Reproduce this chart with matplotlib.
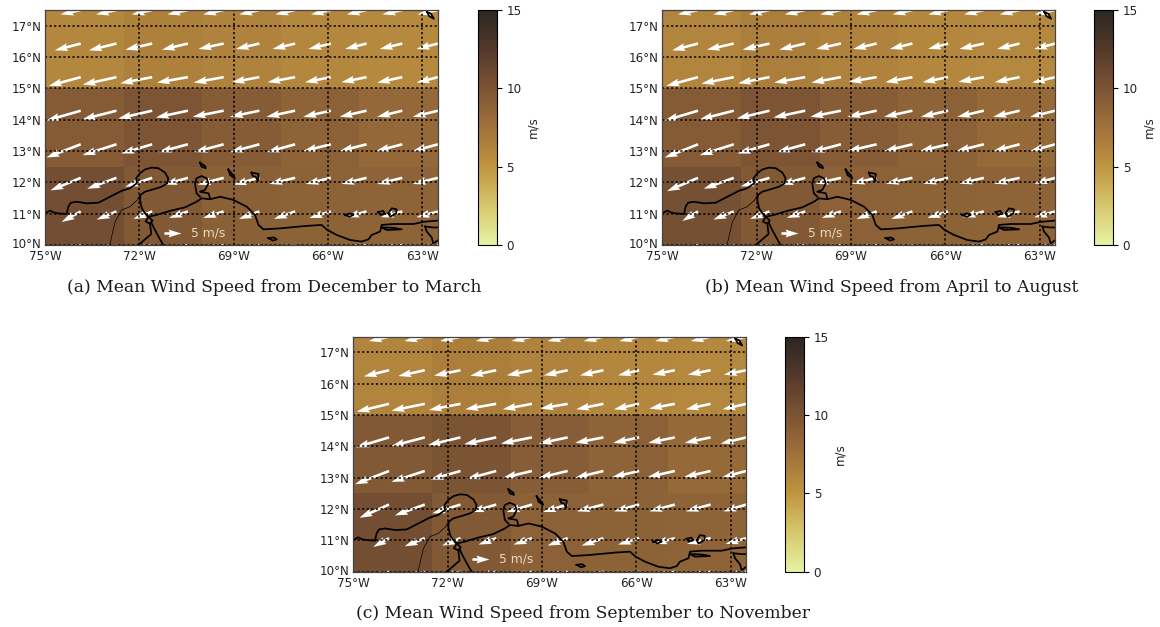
import numpy as np
import matplotlib
matplotlib.use("Agg")
import matplotlib.pyplot as plt
from matplotlib.colors import LinearSegmentedColormap
from matplotlib.transforms import ScaledTranslation

W, H = 1160, 627
CAPTIONS = ["(a) Mean Wind Speed from December to March",
            "(b) Mean Wind Speed from April to August",
            "(c) Mean Wind Speed from September to November"]
LON_EDGES = [-75, -72.5, -70, -67.5, -66, -65, -62.5]
LAT_EDGES = [10, 12.5, 15, 17.5]
SPEED_A = [[10.5, 9.6, 9.0, 8.8, 8.8, 8.7],
           [9.4, 9.9, 9.3, 8.7, 8.9, 8.3],
           [6.0, 6.5, 6.3, 6.0, 6.0, 5.8]]
SPEED_B = [[10.4, 9.6, 8.9, 8.8, 8.8, 8.7],
           [9.4, 9.9, 9.2, 8.7, 8.9, 8.2],
           [6.1, 6.6, 6.3, 6.0, 6.0, 5.9]]
SPEED_C = [[10.5, 9.6, 8.9, 8.8, 8.8, 8.7],
           [9.5, 10.0, 9.2, 8.7, 8.9, 8.2],
           [6.1, 6.6, 6.3, 6.0, 6.0, 5.9]]
ARROW_LON = [-73.864, -72.727, -71.591, -70.455, -69.318, -68.182, -67.045, -65.909, -64.773, -63.636, -62.5]
ARROW_LAT = [10.0, 11.071, 12.143, 13.214, 14.286, 15.357, 16.429, 17.5]

U_A = [[-5.5, -5.5, -5.5, -5.5, -5.8, -6.0, -6.0, -6.2, -6.2, -6.2, -6.2],
       [-5.6, -5.8, -5.5, -5.5, -6.0, -6.0, -6.2, -6.3, -6.0, -6.3, -6.3],
       [-8.9, -8.6, -7.9, -7.0, -7.6, -7.6, -7.6, -7.4, -7.4, -7.4, -7.4],
       [-10.1, -10.0, -9.1, -8.6, -8.6, -8.6, -8.3, -8.1, -7.9, -7.7, -7.4],
       [-10.1, -10.0, -10.0, -9.4, -9.1, -8.6, -8.4, -8.1, -7.9, -7.4, -7.4],
       [-9.4, -9.9, -9.4, -9.1, -8.8, -8.1, -8.1, -7.6, -7.4, -7.4, -6.3],
       [-7.6, -8.1, -7.9, -7.6, -7.4, -6.9, -6.6, -6.6, -6.3, -6.6, -6.3],
       [-5.9, -6.0, -6.0, -6.0, -6.0, -5.9, -5.8, -5.8, -5.8, -5.8, -6.0]]
V_A = [[-2.2, -2.2, -2.0, -1.9, -1.9, -2.0, -2.0, -1.9, -1.8, -1.7, -1.7],
       [-3.1, -2.4, -2.2, -1.9, -1.9, -2.2, -2.2, -1.9, -1.7, -1.7, -1.7],
       [-3.7, -3.2, -2.6, -2.0, -2.0, -2.0, -1.8, -1.8, -1.8, -1.8, -1.8],
       [-3.9, -3.2, -2.7, -2.3, -2.3, -2.3, -2.3, -2.0, -2.0, -2.0, -2.0],
       [-2.9, -2.55, -2.3, -2.0, -1.8, -1.8, -1.8, -1.8, -1.8, -1.8, -1.8],
       [-2.55, -2.2, -1.8, -1.6, -1.6, -1.5, -1.5, -1.5, -1.5, -1.6, -1.6],
       [-2.0, -2.0, -1.8, -1.8, -1.6, -1.6, -1.6, -1.6, -1.6, -1.6, -1.6],
       [-1.3, -1.3, -1.3, -1.3, -1.3, -1.3, -1.3, -1.3, -1.3, -1.3, -1.3]]
U_B = [[-5.5, -5.5, -5.5, -5.4, -5.6, -5.9, -6.0, -6.1, -6.2, -6.3, -6.2],
       [-4.6, -6.0, -5.7, -5.4, -5.6, -5.9, -6.2, -6.1, -6.2, -6.6, -6.2],
       [-9.1, -8.8, -8.4, -7.3, -7.5, -7.3, -7.8, -7.3, -7.2, -7.5, -6.2],
       [-9.8, -10.0, -9.4, -8.3, -8.7, -8.6, -8.3, -8.3, -8.1, -7.7, -7.4],
       [-9.8, -10.0, -9.6, -9.3, -9.0, -8.6, -8.3, -8.0, -7.8, -7.7, -7.4],
       [-9.3, -9.5, -9.2, -9.1, -8.7, -8.2, -8.0, -7.5, -7.5, -7.3, -6.8],
       [-7.6, -7.9, -7.9, -7.6, -7.3, -6.9, -6.6, -5.9, -7.2, -6.6, -6.2],
       [-5.9, -6.0, -6.0, -6.0, -6.0, -5.9, -5.8, -5.8, -5.8, -5.8, -6.0]]
V_B = [[-2.2, -2.2, -2.0, -1.9, -1.9, -2.0, -2.0, -1.9, -1.8, -1.7, -1.7],
       [-2.8, -2.4, -2.2, -1.9, -1.9, -2.2, -2.2, -1.9, -1.7, -1.7, -1.7],
       [-3.9, -3.2, -2.5, -2.0, -1.7, -1.7, -1.7, -1.7, -1.7, -1.7, -1.7],
       [-3.9, -3.2, -2.7, -2.3, -2.3, -2.0, -2.0, -2.0, -2.0, -2.0, -2.0],
       [-2.9, -2.55, -2.3, -2.0, -1.8, -1.8, -1.8, -1.8, -1.8, -1.8, -1.8],
       [-2.55, -1.9, -1.8, -1.6, -1.6, -1.4, -1.5, -1.5, -1.4, -1.5, -1.6],
       [-2.0, -1.8, -1.8, -1.8, -1.6, -1.6, -1.6, -1.6, -1.6, -1.6, -1.6],
       [-1.3, -1.3, -1.3, -1.3, -1.3, -1.3, -1.3, -1.3, -1.3, -1.3, -1.3]]
U_C = [[-5.4, -5.5, -5.4, -5.3, -5.5, -5.9, -6.1, -6.1, -6.1, -6.4, -6.1],
       [-4.6, -5.9, -5.4, -5.2, -5.4, -5.9, -6.4, -6.2, -6.1, -6.9, -6.1],
       [-8.7, -8.8, -8.3, -7.4, -7.4, -7.3, -7.8, -7.4, -7.5, -7.3, -6.8],
       [-10.0, -9.8, -8.8, -8.6, -8.5, -8.5, -8.3, -7.9, -8.0, -7.8, -7.0],
       [-9.7, -9.8, -9.6, -9.4, -9.1, -8.5, -8.3, -7.6, -7.8, -7.6, -7.5],
       [-9.5, -9.8, -9.3, -9.1, -8.6, -8.0, -8.0, -7.4, -7.5, -7.3, -7.0],
       [-7.4, -7.8, -7.8, -7.6, -7.4, -7.0, -6.9, -6.2, -6.6, -6.7, -6.6],
       [-5.9, -6.0, -6.0, -6.0, -6.0, -5.9, -5.8, -5.8, -5.8, -5.8, -6.0]]
V_C = [[-2.2, -2.2, -2.0, -1.9, -1.9, -2.0, -2.0, -1.9, -1.8, -1.7, -1.7],
       [-2.6, -2.4, -2.2, -1.9, -1.9, -2.2, -2.2, -1.9, -1.7, -1.7, -1.7],
       [-3.9, -3.2, -2.6, -2.2, -2.2, -2.2, -2.0, -2.0, -2.0, -2.0, -2.0],
       [-3.9, -3.2, -2.5, -2.3, -2.0, -2.0, -2.0, -1.8, -1.8, -1.8, -1.8],
       [-2.9, -2.55, -2.3, -2.0, -1.8, -1.8, -1.6, -1.6, -1.6, -1.6, -1.8],
       [-2.3, -2.0, -1.8, -1.6, -1.6, -1.4, -1.6, -1.6, -1.4, -1.6, -1.6],
       [-1.8, -1.7, -1.6, -1.6, -1.5, -1.5, -1.5, -1.5, -1.3, -1.3, -1.3],
       [-1.3, -1.3, -1.3, -1.3, -1.3, -1.3, -1.3, -1.3, -1.3, -1.3, -1.3]]

COAST_THICK = [
    [(-75.0, 11.01), (-74.84, 11.10), (-74.73, 11.04), (-74.58, 11.01), (-74.31, 10.99), (-74.26, 11.22),
     (-74.18, 11.35), (-73.99, 11.38), (-73.67, 11.33), (-73.30, 11.35), (-72.93, 11.54), (-72.56, 11.73),
     (-72.30, 11.81), (-72.08, 11.97), (-72.10, 12.13), (-71.98, 12.29), (-71.82, 12.41), (-71.61, 12.47),
     (-71.39, 12.45), (-71.18, 12.31), (-71.08, 12.13), (-71.11, 11.97), (-71.29, 11.86), (-71.55, 11.78),
     (-71.82, 11.70), (-71.96, 11.60), (-71.98, 11.44), (-71.92, 11.17), (-71.82, 11.01), (-71.71, 10.90),
     (-71.45, 10.96), (-71.02, 11.09), (-70.55, 11.20), (-70.18, 11.38), (-70.02, 11.49), (-69.75, 11.46),
     (-69.43, 11.54), (-69.01, 11.44), (-68.58, 11.22), (-68.32, 10.96), (-68.21, 10.64), (-68.05, 10.50),
     (-67.52, 10.53), (-67.21, 10.56), (-66.68, 10.61), (-66.20, 10.64), (-66.02, 10.48), (-65.72, 10.32),
     (-65.30, 10.16), (-64.93, 10.11), (-64.71, 10.18), (-64.61, 10.32), (-64.34, 10.43), (-64.29, 10.64),
     (-63.92, 10.67), (-63.28, 10.67), (-62.96, 10.74), (-62.49, 10.78)],
    [(-71.71, 10.90), (-71.80, 10.75), (-71.66, 10.68), (-71.58, 10.78), (-71.71, 10.90)],
    [(-71.62, 10.72), (-71.53, 10.53), (-71.39, 10.27), (-71.24, 10.0)],
    [(-71.66, 10.68), (-71.62, 10.35), (-72.03, 10.0)],
    [(-70.07, 11.54), (-70.18, 11.65), (-70.23, 11.97), (-70.18, 12.13), (-70.02, 12.20), (-69.86, 12.13),
     (-69.80, 11.97), (-69.91, 11.76), (-70.07, 11.70), (-69.80, 11.65), (-69.75, 11.49)],
    [(-64.29, 10.56), (-64.13, 10.48), (-63.65, 10.50), (-63.92, 10.55), (-64.29, 10.56)],
    [(-62.91, 10.59), (-62.65, 10.56), (-62.49, 10.56)],
    [(-62.91, 10.59), (-62.86, 10.43), (-62.70, 10.24), (-62.65, 10.05), (-62.49, 10.16)],
    [(-70.07, 12.63), (-69.91, 12.52), (-69.89, 12.45), (-70.02, 12.50), (-70.07, 12.63)],
    [(-69.17, 12.41), (-68.99, 12.20), (-68.96, 12.13), (-69.11, 12.23), (-69.17, 12.41)],
    [(-68.43, 12.31), (-68.21, 12.27), (-68.23, 12.04), (-68.30, 12.18), (-68.39, 12.20), (-68.43, 12.31)],
    [(-67.90, 10.22), (-67.72, 10.24), (-67.63, 10.18), (-67.75, 10.14), (-67.90, 10.22)],
    [(-65.46, 10.96), (-65.30, 11.01), (-65.19, 10.96), (-65.32, 10.90), (-65.46, 10.96)],
    [(-64.40, 11.05), (-64.25, 11.09), (-64.19, 11.0), (-64.33, 10.96), (-64.40, 11.05)],
    [(-64.08, 11.01), (-63.97, 11.17), (-63.82, 11.14), (-63.83, 11.01), (-64.02, 10.90), (-64.08, 11.01)],
    [(-62.85, 17.44), (-62.72, 17.38), (-62.63, 17.22), (-62.78, 17.30), (-62.85, 17.44)],
]
BORDER_THIN = [(-71.98, 11.60), (-72.06, 11.44), (-72.30, 11.22), (-72.56, 11.12), (-72.77, 10.74), (-72.93, 10.05), (-72.95, 10.0)]
LON_TICKS = [-75, -72, -69, -66, -63]
LAT_TICKS = [10, 11, 12, 13, 14, 15, 16, 17]
LON_LABELS = ["75°W", "72°W", "69°W", "66°W", "63°W"]
LAT_LABELS = ["10°N", "11°N", "12°N", "13°N", "14°N", "15°N", "16°N", "17°N"]
CBAR_TICKS = [0, 5, 10, 15]

cmap = LinearSegmentedColormap.from_list("turbid_r", [
    (0.0, "#e6f3a3"), (1 / 6, "#d6c76d"), (1 / 3, "#bf9540"), (0.5, "#a0713a"),
    (2 / 3, "#7b5434"), (5 / 6, "#54392b"), (1.0, "#2b2621")])

fig = plt.figure(figsize=(W / 100, H / 100), dpi=100)
TEXT = "#222222"


def px_axes(l, t, r, b):
    return fig.add_axes([l / W, 1 - b / H, (r - l) / W, (b - t) / H])


def panel(left, top, cbar_left, speed, u, v, caption, cap_x, cap_y):
    right, bottom = left + 393, top + 235
    ax = px_axes(left, top, right, bottom)
    mesh = ax.pcolormesh(LON_EDGES, LAT_EDGES, speed, cmap=cmap, vmin=0, vmax=15, zorder=1)
    q = ax.quiver(ARROW_LON, ARROW_LAT, u, v, color="white", units="dots", width=2.6,
                  angles="uv", scale_units="dots", scale=5 / 17, pivot="tail", zorder=2)
    ax.quiverkey(q, 0.345, 0.052, 5, "5 m/s", labelpos="E", coordinates="axes", color="white",
                 labelcolor="#ead9c0", fontproperties={"size": 8.8}, labelsep=0.1)
    for seg in COAST_THICK:
        xs, ys = zip(*seg)
        ax.plot(xs, ys, color="black", lw=1.25, zorder=3)
    xs, ys = zip(*BORDER_THIN)
    ax.plot(xs, ys, color="black", lw=0.5, zorder=3)
    for lon in LON_TICKS:
        ax.axvline(lon, color="black", lw=1.1, ls=(0, (1.4, 1.6)), zorder=4)
    for lat in LAT_TICKS:
        ax.axhline(lat, color="black", lw=1.1, ls=(0, (1.4, 1.6)), zorder=4)
    ax.set_xlim(-75, -62.5)
    ax.set_ylim(10, 17.5)
    ax.set_xticks(LON_TICKS, LON_LABELS)
    ax.set_yticks(LAT_TICKS, LAT_LABELS)
    ax.tick_params(axis="x", length=0, pad=3.7, labelsize=8.6, labelcolor=TEXT)
    ax.tick_params(axis="y", length=0, pad=2.8, labelsize=8.6, labelcolor=TEXT)
    lab = ax.get_yticklabels()[0]
    lab.set_transform(lab.get_transform() + ScaledTranslation(0, 1.5 / 72, fig.dpi_scale_trans))
    for s in ax.spines.values():
        s.set_color("#444444")
        s.set_linewidth(0.9)
        s.set_zorder(5)
    cax = px_axes(cbar_left, top, cbar_left + 19, bottom)
    cb = fig.colorbar(mesh, cax=cax)
    cb.set_ticks(CBAR_TICKS)
    cb.ax.tick_params(labelsize=8.6, labelcolor=TEXT, length=3.5, width=0.8)
    cb.outline.set_linewidth(0.8)
    cb.set_label("m/s", fontsize=8.6, color=TEXT, labelpad=3.5)
    fig.text(cap_x / W, 1 - cap_y / H, caption, family="DejaVu Serif", fontsize=12.35,
             ha="center", va="center", color="#1a1a1a")


panel(45, 10, 477.5, SPEED_A, U_A, V_A, CAPTIONS[0], 274, 287)
panel(662.3, 10, 1094, SPEED_B, U_B, V_B, CAPTIONS[1], 892, 287)
panel(353.3, 336.7, 785, SPEED_C, U_C, V_C, CAPTIONS[2], 583, 614)
fig.savefig("out.png", dpi=100)
